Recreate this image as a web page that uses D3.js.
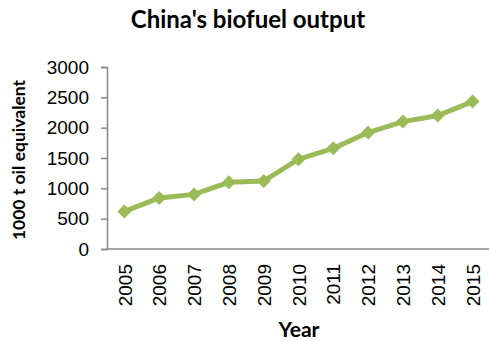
<!DOCTYPE html>
<html>
<head>
<meta charset="utf-8">
<script src="https://cdn.jsdelivr.net/npm/d3@7"></script>
<style>
  body { margin: 0; background: #fff; }
  svg { font-family: Lato, "Open Sans", sans-serif; }
</style>
</head>
<body>
<script>
const years = ["2005", "2006", "2007", "2008", "2009", "2010", "2011", "2012", "2013", "2014", "2015"];
const output = [620, 840, 900, 1100, 1120, 1480, 1660, 1920, 2100, 2200, 2430];
const yTicks = [0, 500, 1000, 1500, 2000, 2500, 3000];

const margin = { top: 67, bottom: 92, left: 107, right: -1 };
const width = 489 - margin.left - margin.right;
const height = 341 - margin.top - margin.bottom;

const svg = d3.select("body").append("svg")
  .attr("width", 489)
  .attr("height", 341);

const g = svg.append("g").attr("transform", `translate(${margin.left},${margin.top})`);

const xscale = d3.scalePoint().domain(years).range([0, width]).padding(0.5);
const yscale = d3.scaleLinear().domain([0, 3000]).range([height, 0]);

// y axis
const g_yaxis = g.append("g")
  .call(d3.axisLeft(yscale).tickValues(yTicks).tickFormat(d3.format("d")).tickSize(6).tickPadding(12));
g_yaxis.select(".domain").attr("stroke", "#868686").attr("stroke-width", 1.5);
g_yaxis.selectAll(".tick line").attr("stroke", "#868686").attr("stroke-width", 1.5);
g_yaxis.selectAll(".tick text").attr("font-size", 19).attr("fill", "#000");

// x axis
const g_xaxis = g.append("g").attr("transform", `translate(0,${height})`)
  .call(d3.axisBottom(xscale).tickSize(0).tickPadding(0));
g_xaxis.select(".domain").attr("stroke", "#868686").attr("stroke-width", 1.5).attr("d", `M0,0H${width}`);
g_xaxis.selectAll(".tick text")
  .attr("font-size", 19)
  .attr("fill", "#000")
  .attr("transform", "rotate(-90)")
  .attr("text-anchor", "end")
  .attr("x", -15)
  .attr("y", 0)
  .attr("dy", "0.35em");

// line
const line = d3.line()
  .x((d, i) => xscale(years[i]))
  .y(d => yscale(d));

g.append("path")
  .attr("d", line(output))
  .attr("fill", "none")
  .attr("stroke", "#9BBB59")
  .attr("stroke-width", 5);

g.selectAll(".marker").data(output).enter().append("path")
  .attr("class", "marker")
  .attr("d", d3.symbol().type(d3.symbolDiamond2).size(125))
  .attr("transform", (d, i) => `translate(${xscale(years[i])},${yscale(d)})`)
  .attr("fill", "#9BBB59");

// titles
svg.append("text")
  .attr("x", 248).attr("y", 28)
  .attr("text-anchor", "middle")
  .attr("font-size", 24).attr("font-weight", "bold")
  .text("China's biofuel output");

svg.append("text")
  .attr("transform", "translate(25,160) rotate(-90)")
  .attr("text-anchor", "middle")
  .attr("font-size", 17.5).attr("font-weight", "bold")
  .text("1000 t oil equivalent");

svg.append("text")
  .attr("x", 299).attr("y", 337)
  .attr("text-anchor", "middle")
  .attr("font-size", 21).attr("font-weight", "bold")
  .text("Year");
</script>
</body>
</html>
